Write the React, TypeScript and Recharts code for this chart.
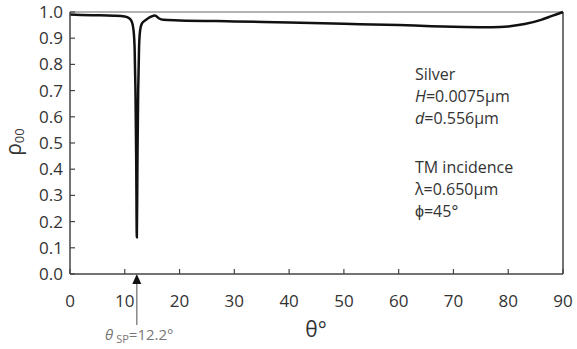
import { Customized, Line, LineChart, ReferenceLine, XAxis, YAxis } from 'recharts'

// reflectance of the zeroth order vs. incidence angle
const thetaDeg = [
    0, 4, 8, 10, 10.8, 11.3, 11.6, 11.8, 11.95, 12.08, 12.2, 12.32, 12.45, 12.6, 12.8, 13.1,
    13.6, 14.2, 14.8, 15.5, 16.2, 17, 20, 30, 40, 50, 60, 66, 72, 77, 80, 83, 86, 88, 90,
]
const rho00 = [
    0.99, 0.988, 0.986, 0.983, 0.976, 0.962, 0.93, 0.86, 0.7, 0.45, 0.14, 0.45, 0.7, 0.86, 0.93,
    0.955, 0.966, 0.975, 0.982, 0.987, 0.976, 0.97, 0.968, 0.964, 0.96, 0.955, 0.95, 0.946, 0.943,
    0.942, 0.945, 0.954, 0.97, 0.985, 1.0,
]

const xTicks = [0, 10, 20, 30, 40, 50, 60, 70, 80, 90]
const yTicks = [0, 0.1, 0.2, 0.3, 0.4, 0.5, 0.6, 0.7, 0.8, 0.9, 1.0]

const thetaSP = 12.2

const data = thetaDeg.map((t, i) => ({ theta: t, rho: rho00[i] }))

const FONT = '"Open Sans", sans-serif'
const AXIS = '#444'

const XTick = ({ x, y, payload }: any) => (
    <g>
        <line x1={x} x2={x} y1={y} y2={y - 5} stroke={AXIS} strokeWidth={1.2} />
        <text x={x} y={y + 33} textAnchor="middle" fontSize={17} fill="#333" fontFamily={FONT}>
            {payload.value}
        </text>
    </g>
)

const YTick = ({ x, y, payload }: any) => (
    <g>
        <line x1={x} x2={x + 5} y1={y} y2={y} stroke={AXIS} strokeWidth={1.2} />
        <text x={x - 7} y={y + 6} textAnchor="end" fontSize={17} fill="#333" fontFamily={FONT}>
            {payload.value.toFixed(1)}
        </text>
    </g>
)

// labels, parameter block and the arrow at the plasmon angle
const Annotations = (props: any) => {
    const xAxis = props.xAxisMap ? (Object.values(props.xAxisMap)[0] as any) : null
    const sx = xAxis?.scale ? xAxis.scale(thetaSP) : 70 + thetaSP * 5.475
    const lines1 = [
        ['Silver', ''],
        ['H', '=0.0075μm'],
        ['d', '=0.556μm'],
    ]
    const lines2 = ['TM incidence', 'λ=0.650μm', 'ϕ=45°']
    return (
        <g fontFamily={FONT}>
            <text transform="translate(21,142) rotate(-90)" textAnchor="middle" fontSize={21} fill="#333">
                ρ
                <tspan fontSize={13} dy={3}>
                    00
                </tspan>
            </text>
            <text x={316} y={337} textAnchor="middle" fontSize={21} fill="#333">
                θ°
            </text>
            {lines1.map(([it, rest], i) => (
                <text key={i} x={415} y={80 + i * 22} fontSize={16} fill="#333">
                    {it === 'Silver' ? (
                        'Silver'
                    ) : (
                        <>
                            <tspan fontStyle="italic">{it}</tspan>
                            {rest}
                        </>
                    )}
                </text>
            ))}
            {lines2.map((s, i) => (
                <text key={i} x={415} y={173 + i * 22} fontSize={16} fill="#333">
                    {s}
                </text>
            ))}
            <line x1={sx} x2={sx} y1={325} y2={282} stroke="#888" strokeWidth={1.5} />
            <polygon points={`${sx},274 ${sx - 4.5},284 ${sx + 4.5},284`} fill="#111" />
            <text x={105} y={340} fontSize={15} fill="#777">
                <tspan fontStyle="italic">θ</tspan>
                <tspan fontSize={11} dx={3} dy={3}>
                    SP
                </tspan>
                <tspan dy={-3}>=12.2°</tspan>
            </text>
        </g>
    )
}

export default function App() {
    return (
        <div style={{ position: 'absolute', left: 0, top: 0, background: '#fff' }}>
            <LineChart
                width={577}
                height={349}
                data={data}
                margin={{ top: 12, right: 14, bottom: 0, left: 0 }}
            >
                <XAxis
                    dataKey="theta"
                    type="number"
                    domain={[0, 90]}
                    ticks={xTicks}
                    height={75}
                    tickSize={0}
                    tickMargin={0}
                    tickLine={false}
                    axisLine={{ stroke: AXIS, strokeWidth: 1.5 }}
                    tick={<XTick />}
                    interval={0}
                />
                <YAxis
                    type="number"
                    domain={[0, 1]}
                    ticks={yTicks}
                    width={70}
                    tickSize={0}
                    tickMargin={0}
                    tickLine={false}
                    axisLine={{ stroke: AXIS, strokeWidth: 1.5 }}
                    tick={<YTick />}
                    interval={0}
                />
                <ReferenceLine y={1} stroke="#999" strokeWidth={1.5} />
                <ReferenceLine x={90} stroke={AXIS} strokeWidth={1.5} />
                <Line
                    type="monotone"
                    dataKey="rho"
                    stroke="#111"
                    strokeWidth={2.5}
                    dot={false}
                    isAnimationActive={false}
                />
                <Customized component={Annotations} />
            </LineChart>
        </div>
    )
}
